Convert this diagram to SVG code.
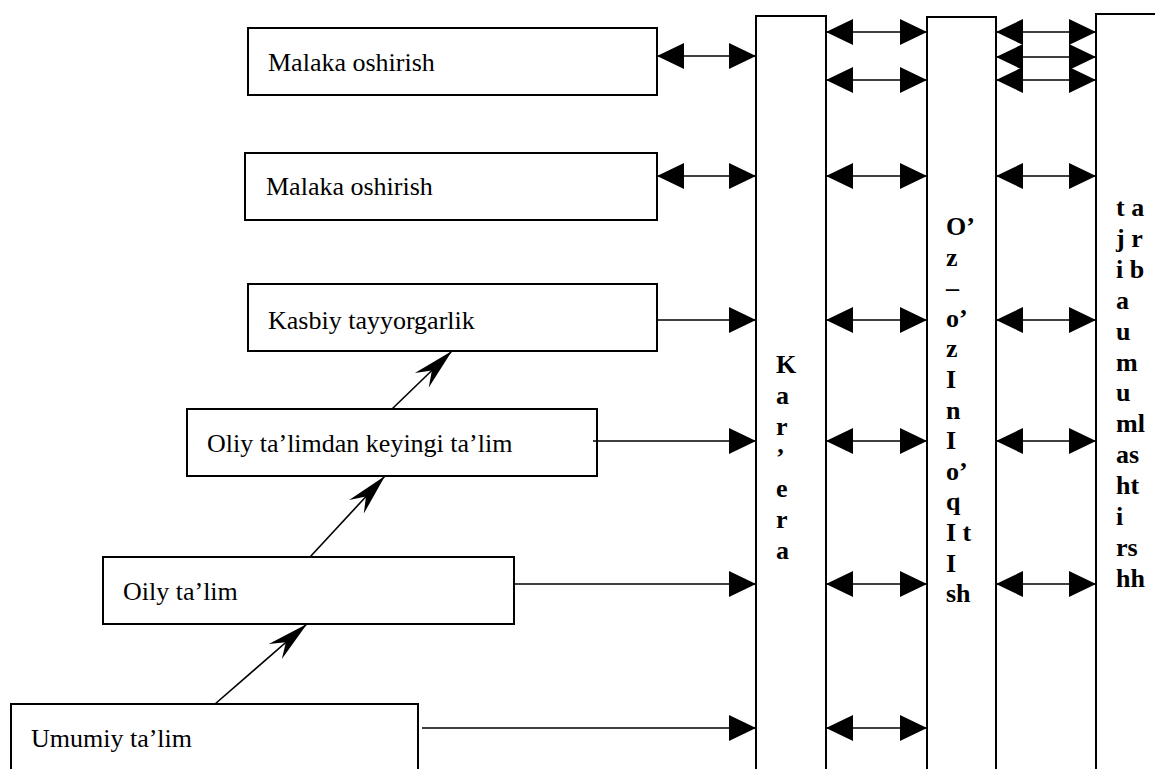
<svg xmlns="http://www.w3.org/2000/svg" width="1155" height="769" viewBox="0 0 1155 769">
  <style>
    .box { fill: #fff; stroke: #000; stroke-width: 2; }
    .label { font-family: "Liberation Serif", "Times New Roman", serif; font-size: 26px; fill: #000; }
    .vert { font-family: "Liberation Serif", "Times New Roman", serif; font-size: 26px; font-weight: bold; fill: #000; }
    .link { stroke: #000; stroke-width: 1.6; fill: none; }
    .both { marker-start: url(#tri); marker-end: url(#tri); }
    .one { marker-end: url(#tri); }
    .up { marker-end: url(#concave); }
  </style>
  <defs>
    <!-- filled triangular head, tip at line end -->
    <marker id="tri" viewBox="0 0 27 26" refX="27" refY="13" markerWidth="27" markerHeight="26" markerUnits="userSpaceOnUse" orient="auto-start-reverse">
      <path d="M0,0 L27,13 L0,26 Z" fill="#000"/>
    </marker>
    <!-- narrow concave head for the rising links -->
    <marker id="concave" viewBox="-44 -12 46 24" refX="0" refY="0" markerWidth="46" markerHeight="24" markerUnits="userSpaceOnUse" orient="auto">
      <path d="M0,0 L-42,-10 L-28,0 L-42,10 Z" fill="#000"/>
    </marker>
  </defs>

  <rect width="1155" height="769" fill="#fff"/>

  <!-- vertical columns -->
  <g id="col-karera">
    <rect class="box" x="756" y="16" width="70" height="770"/>
    <text class="vert" x="776">
      <tspan x="776" y="373">K</tspan>
      <tspan x="776" y="404">a</tspan>
      <tspan x="776" y="435">r</tspan>
      <tspan x="776" y="466">’</tspan>
      <tspan x="776" y="497">e</tspan>
      <tspan x="776" y="528">r</tspan>
      <tspan x="776" y="559">a</tspan>
    </text>
  </g>
  <g id="col-oz-ozini">
    <rect class="box" x="927" y="17" width="69" height="770"/>
    <text class="vert">
      <tspan x="946" y="235">O’</tspan>
      <tspan x="946" y="265.6">z</tspan>
      <tspan x="946" y="296.2">–</tspan>
      <tspan x="946" y="326.8">o’</tspan>
      <tspan x="946" y="357.4">z</tspan>
      <tspan x="946" y="388">I</tspan>
      <tspan x="946" y="418.6">n</tspan>
      <tspan x="946" y="449.2">I</tspan>
      <tspan x="946" y="479.8">o’</tspan>
      <tspan x="946" y="510.4">q</tspan>
      <tspan x="946" y="541">I t</tspan>
      <tspan x="946" y="571.6">I</tspan>
      <tspan x="946" y="602.2">sh</tspan>
    </text>
  </g>
  <g id="col-tajriba">
    <rect class="box" x="1096" y="14" width="70" height="770"/>
    <text class="vert">
      <tspan x="1116" y="216">t a</tspan>
      <tspan x="1116" y="246.9">j r</tspan>
      <tspan x="1116" y="277.8">i b</tspan>
      <tspan x="1116" y="308.7">a</tspan>
      <tspan x="1116" y="339.6">u</tspan>
      <tspan x="1116" y="370.5">m</tspan>
      <tspan x="1116" y="401.4">u</tspan>
      <tspan x="1116" y="432.3">ml</tspan>
      <tspan x="1116" y="463.2">as</tspan>
      <tspan x="1116" y="494.1">ht</tspan>
      <tspan x="1116" y="525">i</tspan>
      <tspan x="1116" y="555.9">rs</tspan>
      <tspan x="1116" y="586.8">hh</tspan>
    </text>
  </g>

  <!-- education stages -->
  <g id="malaka-1">
    <rect class="box" x="248" y="28" width="409" height="67"/>
    <text class="label" x="268" y="71">Malaka oshirish</text>
  </g>
  <g id="malaka-2">
    <rect class="box" x="245" y="153" width="412" height="67"/>
    <text class="label" x="266" y="195">Malaka oshirish</text>
  </g>
  <g id="kasbiy">
    <rect class="box" x="248" y="284" width="409" height="67"/>
    <text class="label" x="268" y="329">Kasbiy tayyorgarlik</text>
  </g>
  <g id="oliy-keyingi">
    <rect class="box" x="187" y="409" width="410" height="67"/>
    <text class="label" x="207" y="452">Oliy ta’limdan keyingi ta’lim</text>
  </g>
  <g id="oliy">
    <rect class="box" x="103" y="557" width="411" height="67"/>
    <text class="label" x="123" y="600">Oily ta’lim</text>
  </g>
  <g id="umumiy">
    <rect class="box" x="11" y="704" width="407" height="80"/>
    <text class="label" x="31" y="747">Umumiy ta’lim</text>
  </g>

  <!-- connectors -->
  <g id="connectors">
    <!-- stages to Kar'era -->
    <line class="link both" x1="657" y1="56" x2="756" y2="56"/>
    <line class="link both" x1="657" y1="176" x2="756" y2="176"/>
    <line class="link one" x1="657" y1="320" x2="756" y2="320"/>
    <line class="link one" x1="593" y1="441" x2="756" y2="441"/>
    <line class="link one" x1="514" y1="584" x2="756" y2="584"/>
    <line class="link one" x1="422" y1="728" x2="756" y2="728"/>

    <!-- Kar'era to O'z-o'zini o'qitish -->
    <line class="link both" x1="826" y1="32" x2="927" y2="32"/>
    <line class="link both" x1="826" y1="80" x2="927" y2="80"/>
    <line class="link both" x1="826" y1="176" x2="927" y2="176"/>
    <line class="link both" x1="826" y1="320" x2="927" y2="320"/>
    <line class="link both" x1="826" y1="441" x2="927" y2="441"/>
    <line class="link both" x1="826" y1="584" x2="927" y2="584"/>
    <line class="link both" x1="826" y1="728" x2="927" y2="728"/>

    <!-- O'z-o'zini o'qitish to tajriba -->
    <line class="link both" x1="996" y1="32" x2="1096" y2="32"/>
    <line class="link both" x1="996" y1="57" x2="1096" y2="57"/>
    <line class="link both" x1="996" y1="80" x2="1096" y2="80"/>
    <line class="link both" x1="996" y1="176" x2="1096" y2="176"/>
    <line class="link both" x1="996" y1="320" x2="1096" y2="320"/>
    <line class="link both" x1="996" y1="441" x2="1096" y2="441"/>
    <line class="link both" x1="996" y1="584" x2="1096" y2="584"/>

    <!-- rising stages -->
    <line class="link up" x1="215" y1="704" x2="307" y2="624"/>
    <line class="link up" x1="310" y1="557" x2="385" y2="476"/>
    <line class="link up" x1="392" y1="409" x2="452" y2="351"/>
  </g>
</svg>
